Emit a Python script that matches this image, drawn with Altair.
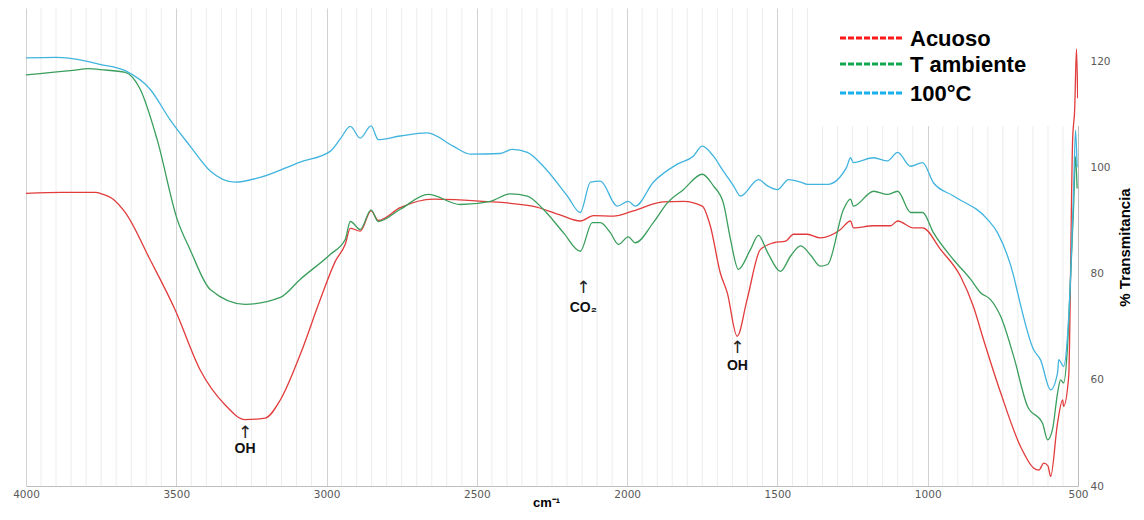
import altair as alt
import pandas as pd

series_names = ["Acuoso", "T ambiente", "100°C"]
series_colors = ["#e23b3b", "#3a9e5c", "#41b4de"]
legend_colors = ["#ff1a1a", "#10a84e", "#18b0ee"]

x_label_values = [4000, 3500, 3000, 2500, 2000, 1500, 1000, 500]
x_minor_grid = [v for v in range(500, 4001, 50) if v % 500 != 0]
y_label_values = [40, 60, 80, 100, 120]

acuoso_wn = [4000, 3880, 3767, 3754, 3710, 3670, 3587, 3504, 3421, 3338, 3271, 3204, 3154, 3088,
             3021, 2971, 2938, 2921, 2888, 2852, 2828, 2755, 2645, 2480, 2315, 2226, 2156, 2112,
             2046, 1979, 1880, 1813, 1750, 1723, 1690, 1667, 1634, 1601, 1557, 1512, 1473, 1446,
             1401, 1357, 1290, 1257, 1247, 1180, 1124, 1100, 1047, 1017, 957, 891, 848, 814, 757,
             691, 648, 630, 614, 600, 591, 568, 551, 548, 531, 518, 511, 505, 501]
acuoso_t = [95.1, 95.3, 95.3, 95.1, 94.0, 91.5, 82.6, 73.2, 61.9, 55.3, 52.5, 52.8, 56.2, 64.7,
            75.1, 82.3, 85.5, 88.5, 88.0, 91.8, 90.0, 92.4, 94.0, 93.6, 92.7, 91.1, 89.9, 90.9,
            90.8, 91.8, 93.5, 93.6, 92.7, 88.9, 80.1, 76.4, 68.2, 75.1, 84.5, 85.8, 86.1, 87.4,
            87.4, 86.7, 88.3, 89.9, 88.6, 89.0, 89.0, 89.9, 88.6, 88.6, 84.5, 79.5, 73.8, 67.5, 57.5,
            47.4, 43.4, 43.0, 44.3, 43.8, 41.8, 51.9, 56.2, 55.0, 60.6, 105.0, 111.0, 122.3, 113.0]

ambiente_wn = [4000, 3853, 3790, 3754, 3670, 3620, 3564, 3497, 3454, 3387, 3271, 3154, 3088, 2988,
               2938, 2921, 2888, 2852, 2828, 2755, 2662, 2555, 2455, 2389, 2332, 2279, 2212, 2156,
               2116, 2089, 2056, 2029, 1996, 1973, 1913, 1866, 1813, 1750, 1713, 1680, 1656, 1630,
               1590, 1563, 1533, 1490, 1456, 1423, 1390, 1357, 1333, 1280, 1257, 1247, 1180, 1134,
               1100, 1057, 1017, 981, 914, 857, 824, 791, 757, 714, 668, 618, 601, 585, 568, 558,
               548, 535, 525, 515, 508, 503]
ambiente_t = [117.4, 118.2, 118.6, 118.4, 117.9, 114.7, 105.3, 90.2, 84.5, 77.0, 74.2, 75.5, 78.9, 83.6,
              86.4, 89.8, 88.3, 92.0, 89.8, 92.1, 94.9, 93.0, 93.6, 95.0, 94.6, 92.1, 87.7, 84.2,
              89.6, 89.6, 87.7, 85.5, 86.9, 85.8, 89.6, 93.3, 95.8, 98.7, 96.5, 93.3, 86.4, 80.8,
              84.5, 87.2, 84.0, 80.4, 83.3, 85.2, 83.5, 81.4, 81.7, 92.1, 94.0, 92.7, 95.5, 94.9,
              95.5, 91.5, 91.5, 87.7, 82.6, 78.9, 76.4, 75.1, 71.9, 64.4, 55.0, 51.8, 48.7, 50.6, 57.5, 60.0,
              59.4, 66.2, 78.9, 92.0, 102.0, 96.0]

c100_wn = [4000, 3900, 3853, 3800, 3754, 3670, 3587, 3521, 3454, 3387, 3304, 3221, 3088, 2988,
           2955, 2921, 2888, 2852, 2828, 2755, 2665, 2579, 2522, 2422, 2382, 2332, 2279, 2199,
           2156, 2122, 2089, 2033, 1996, 1973, 1913, 1833, 1780, 1750, 1713, 1680, 1646, 1623,
           1563, 1533, 1500, 1463, 1423, 1400, 1333, 1270, 1257, 1247, 1180, 1134, 1100, 1057,
           1017, 981, 914, 801, 768, 714, 701, 648, 625, 591, 568, 564, 548, 535, 525, 515, 508, 503]
c100_t = [120.6, 120.7, 120.5, 120.0, 119.4, 118.2, 114.7, 109.0, 104.0, 99.3, 97.2, 98.1, 101.0, 103.0,
          105.3, 107.7, 105.5, 107.8, 105.2, 105.9, 106.5, 104.0, 102.5, 102.6, 103.4, 102.8, 100.2, 94.6,
          91.5, 97.2, 97.4, 92.7, 93.6, 92.7, 97.2, 100.6, 102.1, 104.0, 102.1, 99.3, 96.5, 94.6,
          97.7, 96.5, 95.8, 97.7, 97.2, 96.8, 96.8, 100.0, 101.8, 100.9, 101.8, 101.2, 102.8, 100.2,
          100.9, 97.1, 94.6, 90.2, 87.7, 79.5, 76.4, 65.7, 63.8, 58.1, 61.3, 63.8, 62.5, 68.1, 78.9, 95.0, 107.0, 100.0]

ann_label = ["OH", "CO₂", "OH"]
ann_wn = [3271, 2146, 1633]
ann_text_t = [47.0, 73.6, 62.6]
ann_arrow_t = [50.0, 77.3, 66.0]

rows = []
for name, wn, tt in zip(series_names, [acuoso_wn, ambiente_wn, c100_wn], [acuoso_t, ambiente_t, c100_t]):
    for i, (w, v) in enumerate(zip(wn, tt)):
        rows.append({"serie": name, "wn": w, "t": v, "ord": i})
df = pd.DataFrame(rows)

ann = pd.DataFrame({"label": ann_label, "wn": ann_wn, "t": ann_text_t, "ta": ann_arrow_t})
grid_df = pd.DataFrame({"wn": x_minor_grid})

x_scale = alt.Scale(domain=[500, 4000], reverse=True, nice=False, zero=False)
y_scale = alt.Scale(domain=[40, 130], nice=False, zero=False)

x_axis = alt.Axis(
    values=x_label_values,
    format="d",
    labelOverlap=False,
    grid=True,
    gridColor="#d2d2d2",
    gridWidth=1,
    ticks=False,
    domainColor="#bdbdbd",
    labelFont="DejaVu Sans",
    labelFontSize=10.5,
    labelColor="#595959",
    labelPadding=3,
    labelFlush=False,
    title="cm⁻¹",
    titleFont="Liberation Sans",
    titleFontSize=13,
    titleFontWeight="bold",
    titleColor="#000000",
    titlePadding=-3,
    titleX=520,
)

y_axis = alt.Axis(
    orient="right",
    values=y_label_values,
    grid=False,
    ticks=False,
    domainColor="#bdbdbd",
    labelFont="DejaVu Sans",
    labelFontSize=10.5,
    labelColor="#595959",
    labelPadding=12,
    title="% Transmitancia",
    titleAngle=270,
    titleFont="Liberation Sans Narrow, Liberation Sans, Arial, sans-serif",
    titleFontSize=15,
    titleFontWeight="bold",
    titleColor="#000000",
    titlePadding=22,
)

minor = alt.Chart(grid_df).mark_rule(color="#ededed", strokeWidth=1).encode(
    x=alt.X("wn:Q", scale=x_scale, axis=x_axis)
)

lines = alt.Chart(df).mark_line(strokeWidth=1.3, clip=True, interpolate="monotone").encode(
    x=alt.X("wn:Q", scale=x_scale, axis=x_axis),
    y=alt.Y("t:Q", scale=y_scale, axis=y_axis),
    color=alt.Color(
        "serie:N",
        scale=alt.Scale(domain=series_names, range=series_colors),
        sort=series_names,
        legend=None,
    ),
    order=alt.Order("ord:Q"),
)

one = pd.DataFrame({"k": [0]})

box = alt.Chart(one).mark_rect(color="white").encode(
    x=alt.value(794), x2=alt.value(1054), y=alt.value(0), y2=alt.value(118)
)

legend_rows = [30, 56, 85]
legend_layers = []
for name, col, ly in zip(series_names, legend_colors, legend_rows):
    legend_layers.append(
        alt.Chart(one).mark_rule(color=col, strokeWidth=3, strokeDash=[6, 2]).encode(
            x=alt.value(814), x2=alt.value(877), y=alt.value(ly)
        )
    )
    legend_layers.append(
        alt.Chart(one).mark_text(
            align="left", baseline="middle", font="Liberation Sans", fontSize=22,
            fontWeight="bold", color="#000000", text=name
        ).encode(x=alt.value(884), y=alt.value(ly + 1))
    )

ann_text = alt.Chart(ann).mark_text(
    font="Liberation Sans", fontSize=14, fontWeight="bold", color="#111111", baseline="middle"
).encode(x=alt.X("wn:Q", scale=x_scale, axis=x_axis), y=alt.Y("t:Q", scale=y_scale, axis=y_axis), text="label:N")

ann_arrow = alt.Chart(ann).mark_text(
    font="DejaVu Sans", fontSize=17, color="#222222", baseline="middle", text="↑"
).encode(x=alt.X("wn:Q", scale=x_scale, axis=x_axis), y=alt.Y("ta:Q", scale=y_scale, axis=y_axis))

chart = alt.layer(minor, box, lines, ann_arrow, ann_text, *legend_layers).properties(
    width=1052,
    height=478,
    padding={"left": 18, "top": 0, "right": 58, "bottom": 26},
    autosize="none",
    background="white",
).configure_view(stroke=None)

chart.save("out.html", embed_options={"renderer": "svg", "actions": False})
